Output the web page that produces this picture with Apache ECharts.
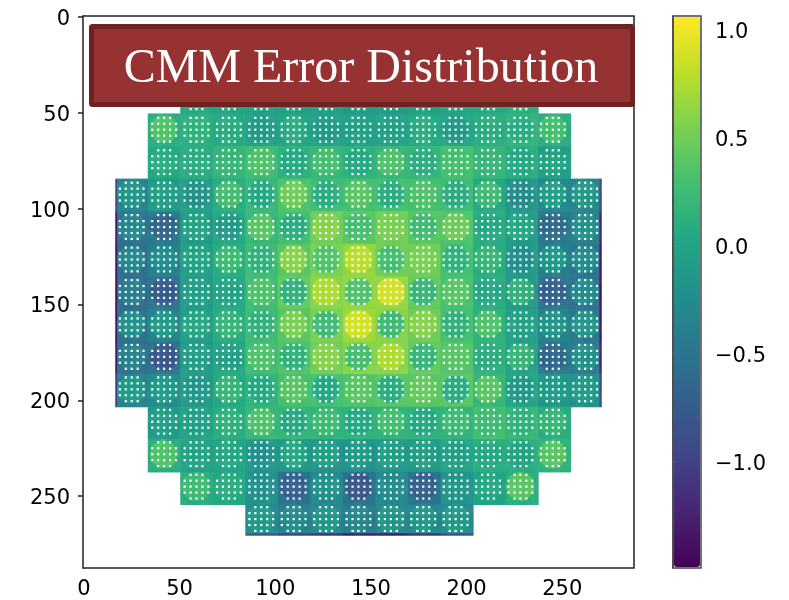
<!DOCTYPE html>
<html><head><meta charset="utf-8">
<style>html,body{margin:0;padding:0;background:#fff}#c{width:789px;height:600px}</style>
<script src="https://cdn.jsdelivr.net/npm/echarts@6/dist/echarts.min.js"></script>
</head><body><div id="c"></div>
<script>
const titleText = 'CMM Error Distribution';
const tickValues = [0, 50, 100, 150, 200, 250];
const colorTicks = [-1, -0.5, 0, 0.5, 1];
const colorMin = -1.49, colorMax = 1.065;
const viridis = ['#440154','#482475','#414487','#355f8d','#2a788e','#21918c','#22a884','#44bf70','#7ad151','#bddf26','#fde725'];
const _ = null;
// mean error read at the centre of each die (rows top to bottom)
const dieSpot = [
[_,_,_,_,.0,.0,.0,.0,.0,.0,.0,_,_,_,_],
[_,_,.1,.1,.05,.05,.0,.0,-.05,.05,.1,.1,.2,_,_],
[_,.35,.15,.1,-.1,.1,-.1,-.05,-.05,.1,-.1,.1,.1,.3,_],
[_,.1,.1,.2,.35,.05,.3,.05,.35,.1,.3,.2,.05,.0,_],
[-.15,-.05,-.2,.3,.05,.5,.1,.4,.1,.35,.1,.25,-.25,-.05,-.1],
[-.3,-.65,.0,-.1,.4,.1,.6,.3,.55,.25,.5,.05,.05,-.6,-.2],
[-.3,-.25,.0,.25,.15,.6,.35,.8,.3,.55,.15,.2,-.25,-.15,-.25],
[-.4,-.75,-.05,.0,.35,.15,.75,.35,.9,.2,.4,.05,.15,-.7,-.25],
[-.2,-.1,.05,.2,.15,.55,.25,.9,.25,.6,.15,.35,.0,-.15,-.15],
[-.35,-.8,-.05,-.05,.35,.15,.6,.3,.75,.2,.4,.1,.2,-.65,-.2],
[-.1,-.1,-.15,.2,.05,.4,.05,.4,.1,.45,.1,.4,-.15,-.1,-.1],
[_,-.05,-.05,.15,.35,.05,.25,.05,.3,.05,.25,.25,.15,.2,_],
[_,.35,.0,.05,-.2,.05,-.05,-.1,-.05,-.05,-.05,.05,.0,.4,_],
[_,_,.25,.1,-.2,-.7,-.2,-.8,-.25,-.7,-.15,.05,.4,_,_],
[_,_,_,_,-.1,-.25,-.15,-.3,-.15,-.15,-.1,_,_,_,_]
];
// error read in the streets around each die's spot
const dieStreet = [
[_,_,_,_,-.1,-.1,-.1,-.1,-.1,-.1,-.1,_,_,_,_],
[_,_,.05,.0,-.05,-.05,-.05,-.1,-.1,-.05,.0,.05,.1,_,_],
[_,.1,.1,.05,-.05,.0,-.05,-.05,-.05,.05,.0,.1,.15,.1,_],
[_,.05,.1,.2,.25,.15,.2,.15,.2,.2,.3,.2,.1,-.05,_],
[-.35,-.1,-.05,.1,.2,.35,.25,.3,.3,.3,.25,.05,-.15,-.3,-.35],
[-.5,-.45,-.1,.05,.2,.3,.5,.4,.5,.4,.35,.1,-.1,-.45,-.4],
[-.55,-.4,-.05,.1,.25,.4,.55,.65,.5,.5,.3,.1,-.1,-.4,-.5],
[-.6,-.5,-.1,.05,.25,.45,.6,.65,.65,.45,.3,.1,-.15,-.5,-.55],
[-.5,-.35,-.05,.1,.25,.4,.55,.7,.6,.5,.3,.15,-.05,-.35,-.45],
[-.55,-.5,-.1,.05,.25,.35,.5,.6,.6,.45,.35,.15,-.05,-.45,-.45],
[-.35,-.25,-.1,.05,.15,.3,.3,.35,.4,.4,.4,.2,.0,-.15,-.2],
[_,-.1,.0,.1,.2,.2,.15,.15,.15,.15,.15,.3,.2,.1,_],
[_,.1,-.05,.0,-.15,-.15,-.2,-.2,-.15,-.1,.0,.1,.1,.15,_],
[_,_,.1,.05,-.2,-.5,-.3,-.5,-.3,-.5,-.2,.0,.1,_,_],
[_,_,_,_,-.3,-.4,-.35,-.45,-.35,-.3,-.3,_,_,_,_]
];
// darker values on the outermost pixels of the wafer
const edgeLeft  = [_,_,_,_,-.9,-1.3,-1.35,-1.4,-1.35,-1.3,-1.0,_,_,_,_];
const edgeRight = [_,_,_,_,-.9,-1.2,-1.3,-1.35,-1.3,-1.2,-.9,_,_,_,_];
const edgeBottom = [_,_,_,_,-.8,-1.0,-1.15,-1.3,-1.3,-1.1,-.9,_,_,_,_];
// layout of the measurement holes in a die
const holePattern = ['.###.','#####','#####','#####','.###.'];
const holePitch = 3.1, spotRadius = 7.2;
const imageSize = 288, waferStart = 17, diePitch = 16.93;
const coveredByTitleBelow = 47.5; // holes above this image row sit behind the title box

const holes = [];
for (let r = 0; r < 15; r++) for (let c = 0; c < 15; c++) {
  if (dieSpot[r][c] === null) continue;
  const cx = waferStart + diePitch * (c + .5) - .5, cy = waferStart + diePitch * (r + .5) - .5;
  holePattern.forEach((line, j) => [...line].forEach((ch, i) => {
    const hy = cy + (j - 2) * holePitch;
    if (ch === '#' && hy > coveredByTitleBelow) holes.push([cx + (i - 2) * holePitch, hy]);
  }));
}
const cells = [];
for (let y = waferStart; y < imageSize; y++) for (let x = waferStart; x < imageSize; x++) {
  const c = Math.floor((x - waferStart) / diePitch), r = Math.floor((y - waferStart) / diePitch);
  if (c > 14 || r > 14 || dieSpot[r][c] === null) continue;
  const cx = waferStart + diePitch * (c + .5) - .5, cy = waferStart + diePitch * (r + .5) - .5;
  let v = Math.hypot(x - cx, y - cy) <= spotRadius ? dieSpot[r][c] : dieStreet[r][c];
  if (x === waferStart && edgeLeft[r] !== null) v = edgeLeft[r];
  if (x - waferStart >= 15 * diePitch - 1 && edgeRight[r] !== null) v = edgeRight[r];
  if (y - waferStart >= 15 * diePitch - 1 && edgeBottom[c] !== null) v = edgeBottom[c];
  cells.push([x, y, v]);
}
const idx = Array.from({length: imageSize}, (_, i) => String(i));
const showTick = i => tickValues.includes(+i);
const tickFont = {fontFamily: 'DejaVu Sans', fontSize: 21, color: '#000'};
const lowered = {a: {...tickFont, padding: [5, 0, 0, 0]}};

const chart = echarts.init(document.getElementById('c'), null, {renderer: 'canvas'});
chart.setOption({
  animation: false,
  backgroundColor: '#fff',
  title: {text: titleText, left: 361, top: 45, textAlign: 'center', padding: 0, z: 8,
    textStyle: {fontFamily: 'Liberation Serif', fontSize: 48, fontWeight: 'normal', color: '#fff'}},
  grid: [
    {left: 83, top: 16, width: 551, height: 552, show: true, borderColor: '#222', borderWidth: 1.5, backgroundColor: '#fff', z: 1},
    {left: 673, top: 16, width: 28, height: 552, show: true, borderColor: '#444', borderWidth: 1.5}
  ],
  xAxis: [
    {type: 'category', gridIndex: 0, data: idx, position: 'bottom',
     axisLine: {show: true, lineStyle: {color: '#222', width: 1.5}}, splitLine: {show: false},
     axisTick: {show: true, alignWithLabel: true, interval: showTick, length: 6, lineStyle: {color: '#222', width: 1.5}},
     axisLabel: {interval: showTick, margin: 11, ...tickFont}},
    {type: 'value', gridIndex: 1, show: false, min: 0, max: 1},
    {type: 'value', gridIndex: 0, show: false, position: 'top', min: -0.5, max: imageSize - 0.5}
  ],
  yAxis: [
    {type: 'category', gridIndex: 0, data: idx, inverse: true,
     axisLine: {show: true, lineStyle: {color: '#222', width: 1.5}}, splitLine: {show: false},
     axisTick: {show: true, alignWithLabel: true, interval: showTick, length: 6, lineStyle: {color: '#222', width: 1.5}},
     axisLabel: {interval: showTick, margin: 13, ...tickFont, rich: lowered, formatter: v => '{a|' + v + '}'}},
    {type: 'value', gridIndex: 1, position: 'right', min: colorMin, max: colorMax,
     axisLine: {show: true, lineStyle: {color: '#444', width: 1.5}}, splitLine: {show: false},
     axisTick: {show: true, customValues: colorTicks, length: 6, lineStyle: {color: '#666', width: 1.5}},
     axisLabel: {customValues: colorTicks, margin: 14, ...tickFont, rich: lowered,
       formatter: v => '{a|' + v.toFixed(1).replace('-', '\u2212') + '}'}},
    {type: 'value', gridIndex: 0, show: false, position: 'right', inverse: true, min: -0.5, max: imageSize - 0.5}
  ],
  visualMap: {type: 'continuous', seriesIndex: 0, min: colorMin, max: colorMax, calculable: false,
    left: 674, top: 17, itemWidth: 26, itemHeight: 550, text: null, showLabel: false, padding: 0,
    inRange: {color: viridis}, hoverLink: false, realtime: false, textStyle: {color: 'transparent', fontSize: 1}},
  graphic: {elements: [{type: 'rect', z: 7, shape: {x: 91.5, y: 26.5, width: 541, height: 78, r: 1},
    style: {fill: '#963232', stroke: '#6f2222', lineWidth: 5}}]},
  series: [
    {type: 'heatmap', xAxisIndex: 0, yAxisIndex: 0, data: cells, silent: true, progressive: 0, emphasis: {disabled: true}, z: 3},
    {type: 'scatter', xAxisIndex: 2, yAxisIndex: 2, data: holes, silent: true, progressive: 0, symbol: 'rect', symbolSize: 2.2,
     itemStyle: {color: '#fff', opacity: 1}, emphasis: {disabled: true}, z: 4}
  ]
});
</script></body></html>
